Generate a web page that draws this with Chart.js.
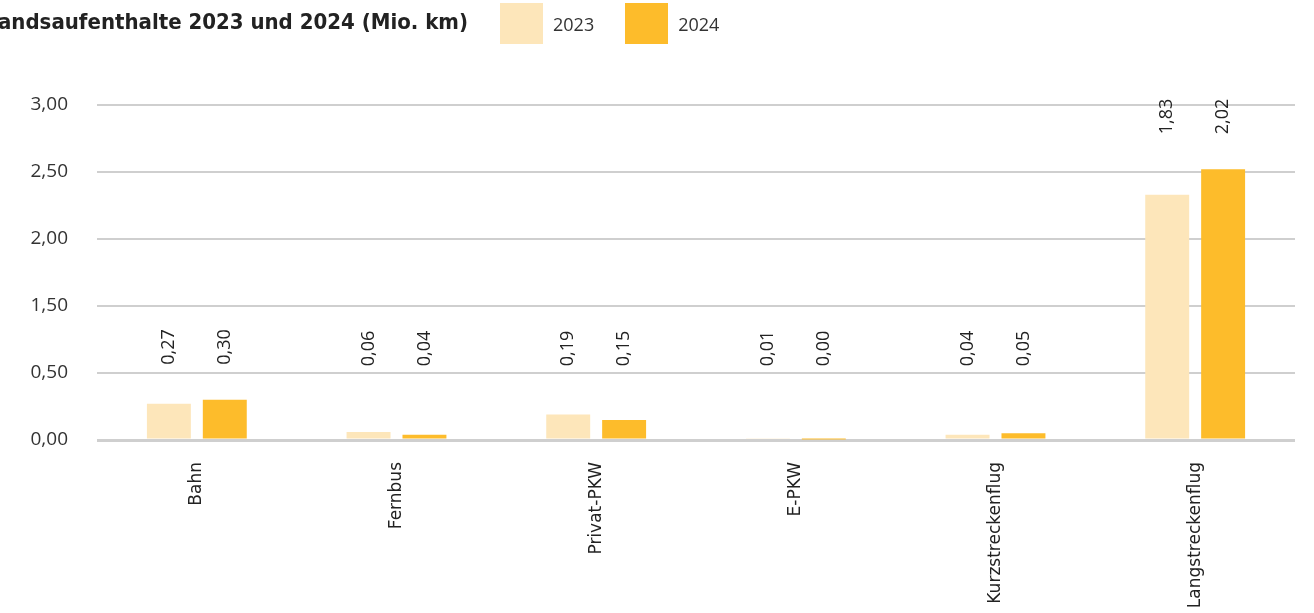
<!DOCTYPE html>
<html>
<head>
<meta charset="utf-8">
<script src="https://cdn.jsdelivr.net/npm/chart.js@4/dist/chart.umd.min.js"></script>
<style>
  html, body { margin: 0; padding: 0; background: #fff; overflow: hidden; }
  #wrap { position: relative; width: 1314px; height: 613px; }
  #title {
    position: absolute; right: calc(1314px - 468px); top: 9px; white-space: nowrap;
    font-family: 'DejaVu Sans Condensed', 'Liberation Sans Narrow', Roboto, sans-serif;
    font-weight: bold; font-size: 22px; color: #222;
  }
  #chart-legend { position: absolute; left: 500px; top: 3px; }
  #chart-legend ul { list-style: none; margin: 0; padding: 0; display: flex; }
  #chart-legend li { display: flex; align-items: center; margin-right: 31px;
    font-family: 'Open Sans', 'Noto Sans', sans-serif; font-size: 18px; color: #333; }
  #chart-legend span { display: inline-block; width: 43px; height: 41px; margin-right: 10px; }
</style>
</head>
<body>
<div id="wrap">
  <div id="title">Auslandsaufenthalte 2023 und 2024 (Mio. km)</div>
  <div id="chart-legend"></div>
  <canvas id="bar-chart" width="1314" height="613"></canvas>
</div>
<script>
  // categories and values (Mio. km)
  const categories = ['Bahn', 'Fernbus', 'Privat-PKW', 'E-PKW', 'Kurzstreckenflug', 'Langstreckenflug'];
  const values2023 = [0.27, 0.06, 0.19, 0.01, 0.04, 1.83];
  const values2024 = [0.30, 0.04, 0.15, 0.004, 0.05, 2.02];
  // tick labels as printed on the original axis
  const yTickLabels = ['0,00', '0,50', '1,50', '2,00', '2,50', '3,00'];

  const fmt = v => v.toFixed(2).replace('.', ',');

  // rotated value labels above each group
  const valueLabels = {
    id: 'valueLabels',
    afterDatasetsDraw(chart) {
      const ctx = chart.ctx;
      const metas = chart.data.datasets.map((d, i) => chart.getDatasetMeta(i));
      const floor = chart.scales.y.getPixelForValue(0.55);
      ctx.save();
      ctx.font = '18px "Open Sans", "Noto Sans", sans-serif';
      ctx.fillStyle = '#222';
      ctx.textAlign = 'left';
      ctx.textBaseline = 'middle';
      categories.forEach((c, idx) => {
        const top = Math.min(...metas.map(m => m.data[idx].y));
        const base = Math.min(top - 35, floor);
        metas.forEach((m, di) => {
          const bar = m.data[idx];
          ctx.save();
          ctx.translate(bar.x, base);
          ctx.rotate(-Math.PI / 2);
          ctx.fillText(fmt(chart.data.datasets[di].data[idx]), 0, 0);
          ctx.restore();
        });
      });
      ctx.restore();
    }
  };

  const htmlLegend = {
    id: 'htmlLegend',
    afterUpdate(chart) {
      const ul = document.createElement('ul');
      chart.data.datasets.forEach(ds => {
        ul.innerHTML += `<li><span style="background-color: ${ds.backgroundColor}"></span>${ds.label}</li>`;
      });
      const box = document.getElementById('chart-legend');
      box.innerHTML = '';
      box.appendChild(ul);
    }
  };

  new Chart(document.getElementById('bar-chart'), {
    type: 'bar',
    data: {
      labels: categories,
      datasets: [{
        label: '2023',
        data: values2023,
        backgroundColor: '#fde6ba'
      }, {
        label: '2024',
        data: values2024,
        backgroundColor: '#fdbc2b'
      }]
    },
    options: {
      responsive: false,
      animation: false,
      layout: { padding: { top: 105, right: 19, left: 0, bottom: 0 } },
      datasets: {
        bar: { categoryPercentage: 0.56, barPercentage: 0.786 }
      },
      scales: {
        x: {
          grid: { display: false, drawTicks: false },
          border: { display: false },
          afterFit: s => { s.height = 173; },
          ticks: {
            minRotation: 90, maxRotation: 90, padding: 22,
            color: '#222',
            font: { family: '"DejaVu Sans", sans-serif', size: 17 }
          }
        },
        y: {
          min: 0, max: 2.5,
          afterFit: s => { s.width = 97; },
          grid: { color: '#cfcfcf', lineWidth: ctx => ctx.tick.value === 0 ? 3 : 2, drawTicks: false },
          border: { display: false },
          ticks: {
            stepSize: 0.5, padding: 29, color: '#333',
            font: { family: '"Open Sans", "Noto Sans", sans-serif', size: 19 },
            callback: (v, i) => yTickLabels[i]
          }
        }
      },
      plugins: {
        legend: { display: false },
        tooltip: { enabled: false }
      }
    },
    plugins: [valueLabels, htmlLegend]
  });
</script>
</body>
</html>
